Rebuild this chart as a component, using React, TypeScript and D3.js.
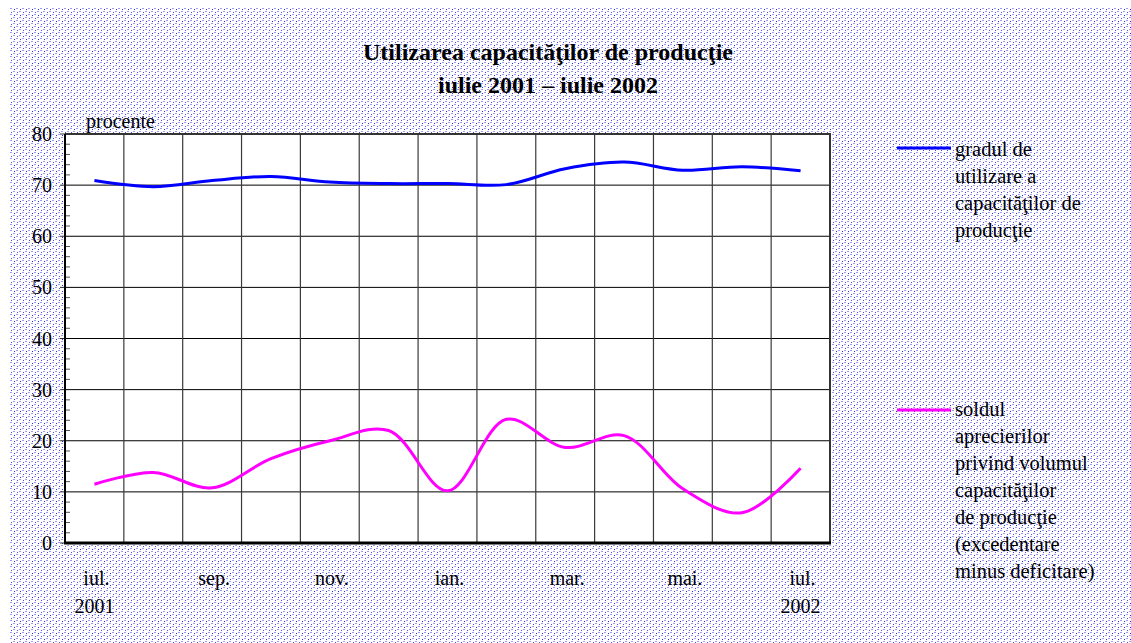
import React from "react";
import * as d3 from "d3";

const months = ["iul.", "aug.", "sep.", "oct.", "nov.", "dec.", "ian.", "feb.", "mar.", "apr.", "mai.", "iun.", "iul."];
const years = ["2001", "", "", "", "", "", "", "", "", "", "", "", "2002"];
const utilizare = [70.9, 69.7, 70.9, 71.7, 70.6, 70.3, 70.3, 70.1, 73.2, 74.5, 72.9, 73.6, 72.8];
const sold = [11.5, 13.8, 10.8, 16.5, 20.0, 22.0, 10.2, 24.2, 18.7, 21.0, 10.6, 5.9, 14.6];
const yTicks = [0, 10, 20, 30, 40, 50, 60, 70, 80];
const legend1 = ["gradul de", "utilizare a", "capacităţilor de", "producţie"];
const legend2 = ["soldul", "aprecierilor", "privind volumul", "capacităţilor", "de producţie", "(excedentare", "minus deficitare)"];

const W = 1131, H = 643;
const L = 65, R = 830, T = 134, B = 543;
const FONT = "'Liberation Serif', 'Times New Roman', serif";

export default function App() {
  const x = d3.scaleBand<number>().domain(d3.range(months.length)).range([L, R]);
  const cx = (i: number) => (x(i) as number) + x.bandwidth() / 2;
  const y = d3.scaleLinear().domain([0, 80]).range([B, T]);
  const line = d3.line<number>().x((_, i) => cx(i)).y((d) => y(d)).curve(d3.curveCatmullRom.alpha(0.5));
  const minor = d3.range(0, 81, 2).filter((v) => v % 10 !== 0);

  return (
    <svg width={W} height={H} style={{ position: "absolute", left: 0, top: 0 }} fontFamily={FONT}>
      <defs>
        <pattern id="dots" x={10} y={8} width={6} height={6} patternUnits="userSpaceOnUse">
          <rect width={6} height={6} fill="#ffffff" />
          <rect x={0} y={0} width={2} height={1} fill="#9c9cf2" />
          <rect x={3} y={3} width={2} height={1} fill="#9c9cf2" />
          <rect x={4} y={1} width={1} height={1} fill="#2a2ae6" />
          <rect x={1} y={4} width={1} height={1} fill="#4848ec" />
        </pattern>
      </defs>
      <rect width={W} height={H} fill="#fff" />
      <rect x={10} y={8} width={W - 10} height={H - 8} fill="url(#dots)" />
      <text x={548} y={60} textAnchor="middle" fontSize={24} fontWeight="bold">Utilizarea capacităţilor de producţie</text>
      <text x={548} y={93} textAnchor="middle" fontSize={24} fontWeight="bold">iulie 2001 – iulie 2002</text>

      <rect x={L} y={T} width={R - L} height={B - T} fill="#fff" />
      {yTicks.map((v) => (
        <line key={"h" + v} x1={L} x2={R} y1={y(v)} y2={y(v)} stroke="#000" strokeWidth={1} />
      ))}
      {d3.range(1, months.length).map((i) => (
        <line key={"v" + i} x1={x(i) as number} x2={x(i) as number} y1={T} y2={B} stroke="#3a3a3a" strokeWidth={1.2} />
      ))}
      {minor.map((v) => (
        <line key={"m" + v} x1={L} x2={L + 5} y1={y(v)} y2={y(v)} stroke="#555" strokeWidth={1} />
      ))}
      {yTicks.map((v) => (
        <line key={"t" + v} x1={L - 5} x2={L} y1={y(v)} y2={y(v)} stroke="#333" strokeWidth={1} />
      ))}
      <line x1={L} x2={R + 1} y1={T} y2={T} stroke="#333" strokeWidth={2} />
      <line x1={R} x2={R} y1={T} y2={B} stroke="#333" strokeWidth={2} />
      <line x1={L} x2={L} y1={T} y2={B + 1} stroke="#000" strokeWidth={2} />
      <line x1={L - 1} x2={R + 1} y1={B} y2={B} stroke="#000" strokeWidth={3} />

      <path d={line(utilizare) || ""} fill="none" stroke="#0000ff" strokeWidth={3} />
      <path d={line(sold) || ""} fill="none" stroke="#ff00ff" strokeWidth={3} />

      {yTicks.map((v) => (
        <text key={"yl" + v} x={52} y={y(v) + 7} textAnchor="end" fontSize={20}>{v}</text>
      ))}
      <text x={86} y={128} fontSize={20}>procente</text>
      {months.map((m, i) =>
        i % 2 === 0 ? (
          <text key={"xl" + i} x={cx(i) + 2} y={585} textAnchor="middle" fontSize={20}>{m}</text>
        ) : null
      )}
      {years.map((yr, i) =>
        yr ? (
          <text key={"yr" + i} x={cx(i)} y={613} textAnchor="middle" fontSize={20}>{yr}</text>
        ) : null
      )}

      <line x1={897} x2={951} y1={148} y2={148} stroke="#0000ff" strokeWidth={3} />
      {legend1.map((s, i) => (
        <text key={"l1" + i} x={955} y={156 + 27 * i} fontSize={20.5}>{s}</text>
      ))}
      <line x1={897} x2={951} y1={410} y2={410} stroke="#ff00ff" strokeWidth={3} />
      {legend2.map((s, i) => (
        <text key={"l2" + i} x={955} y={416 + 27 * i} fontSize={20.5}>{s}</text>
      ))}
    </svg>
  );
}
